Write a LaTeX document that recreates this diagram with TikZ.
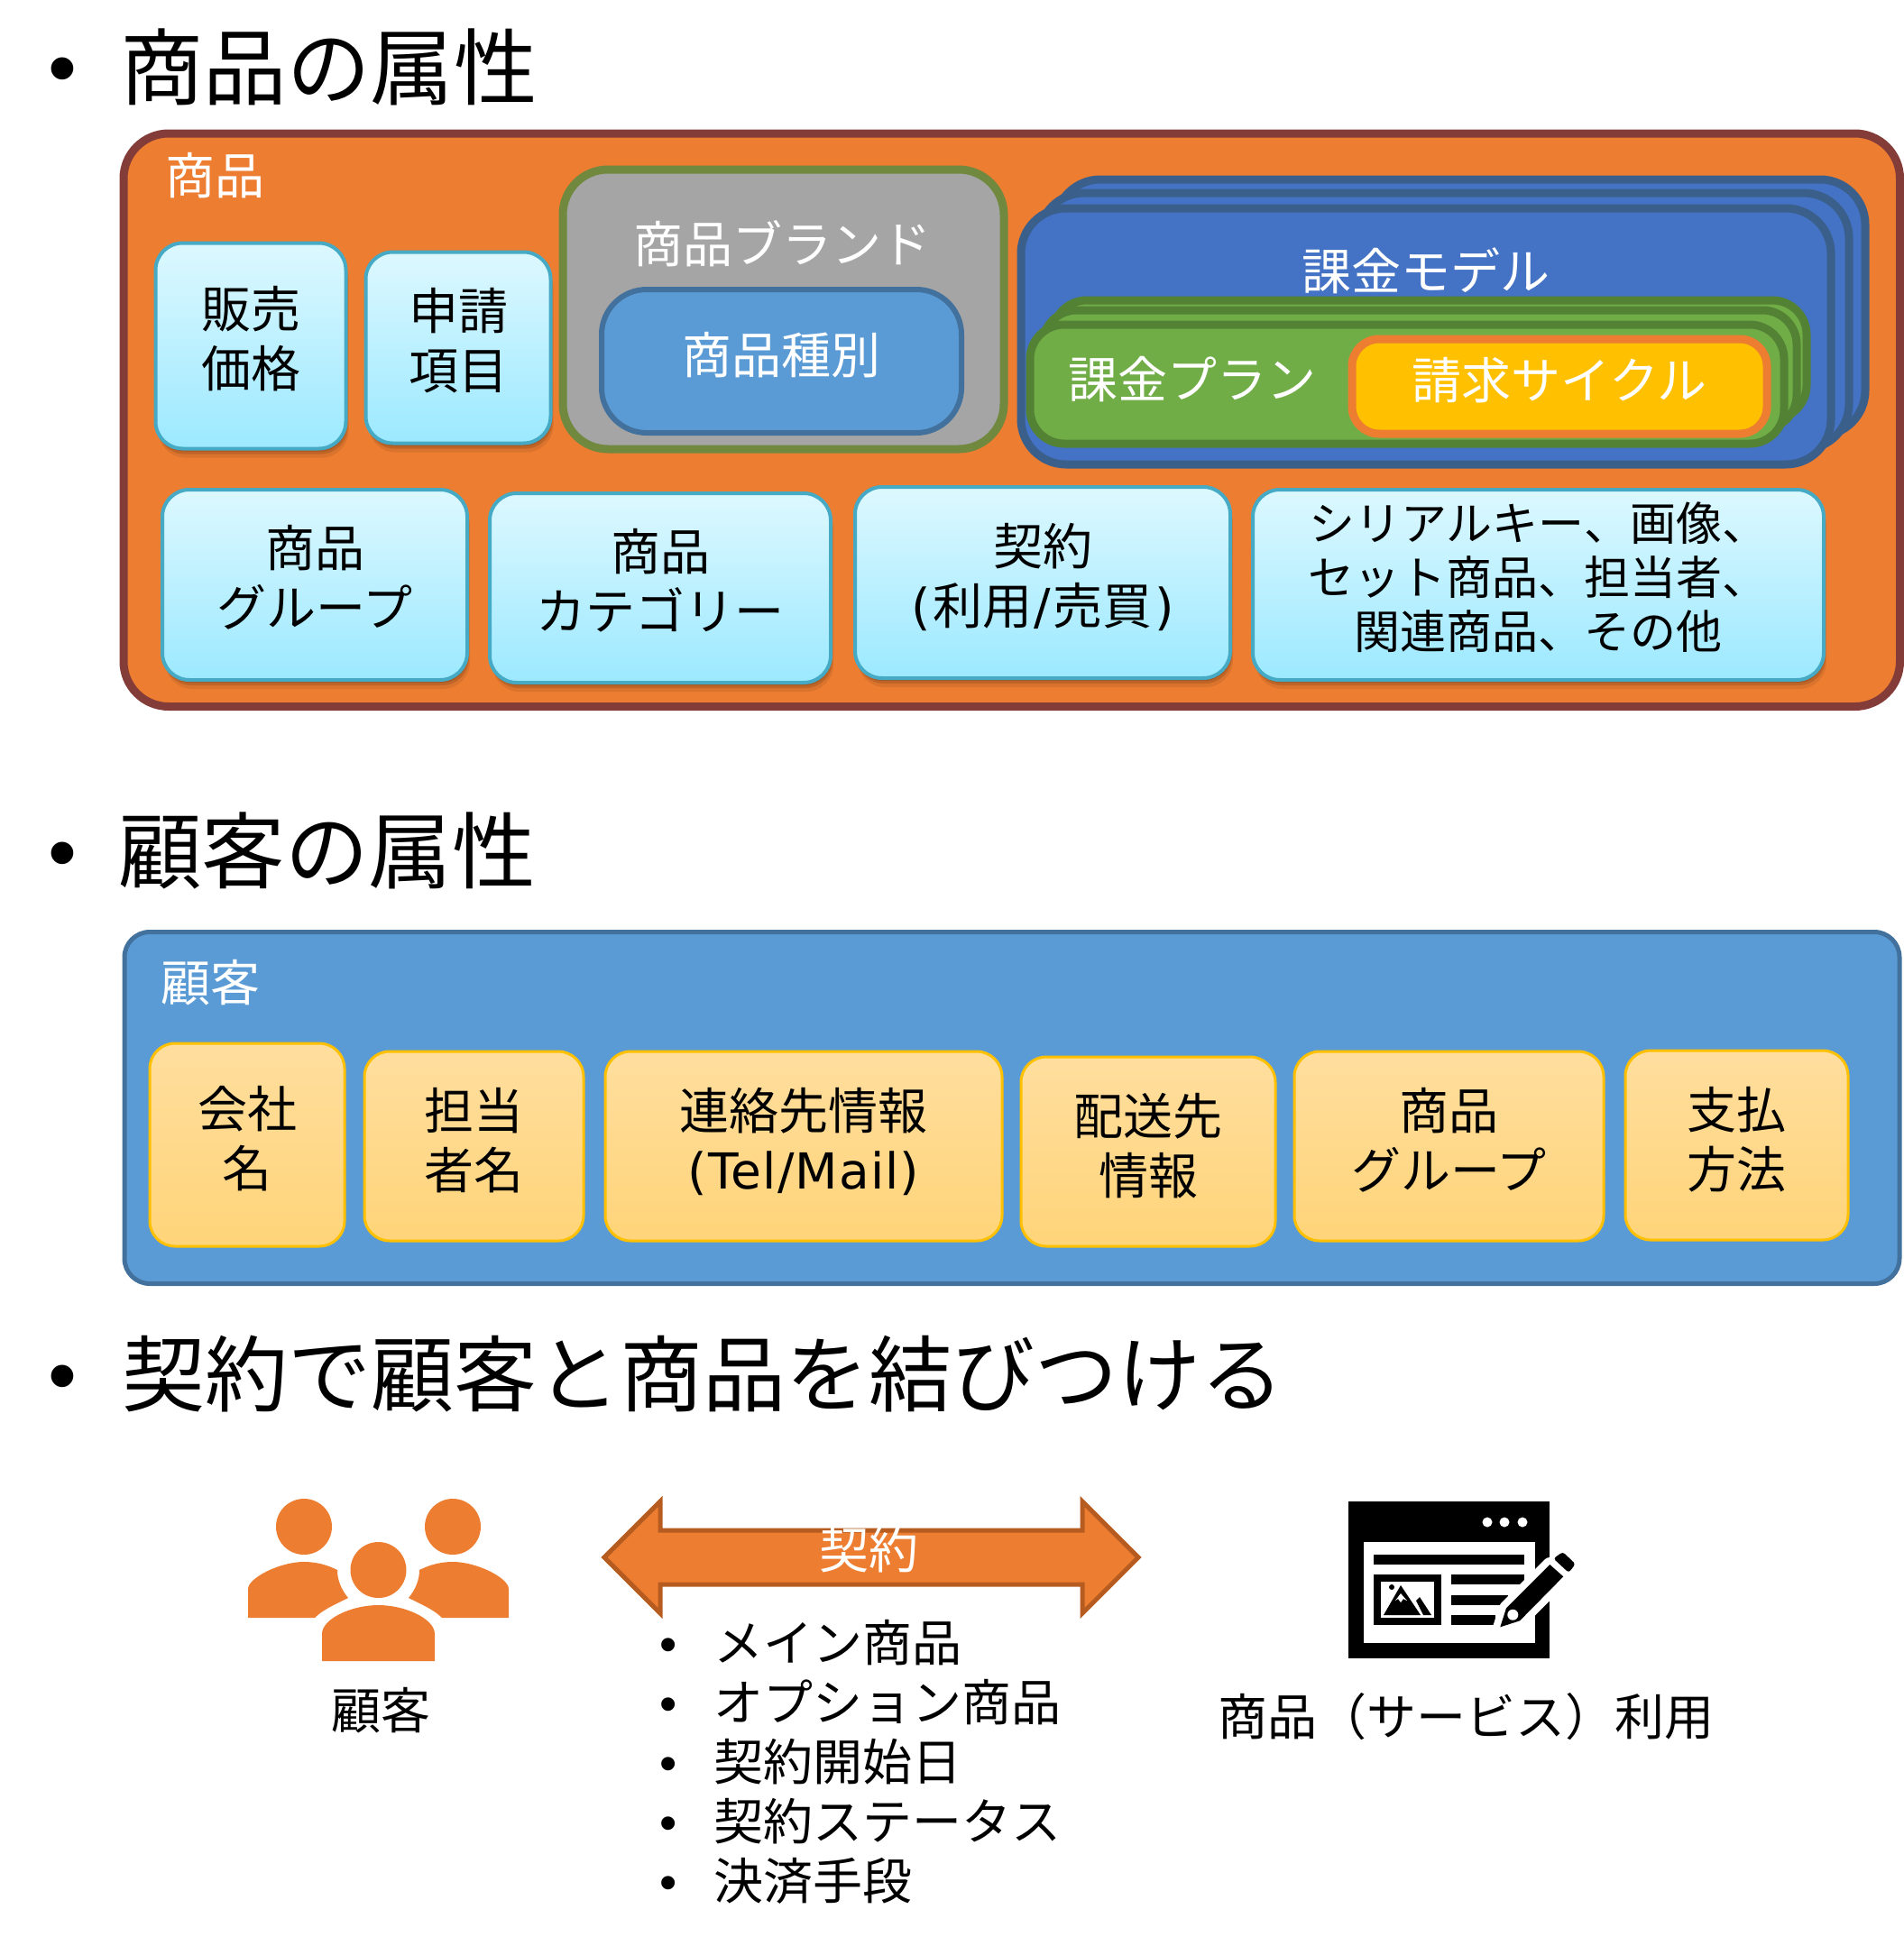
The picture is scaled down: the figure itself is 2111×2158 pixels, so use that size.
\documentclass[tikz,border=0pt]{standalone}
\usepackage{fontspec}
\usepackage{tikz}
\usetikzlibrary{shadows}
\setmainfont{Noto Sans CJK JP}
\newfontfamily\dotfont{Liberation Sans}
\newfontfamily\latinfont[LetterSpace=2]{DejaVu Sans}
\definecolor{orangeFill}{HTML}{ED7D31}
\definecolor{orangeLine}{HTML}{843C39}
\definecolor{arrowLine}{HTML}{B65C20}
\definecolor{blueFill}{HTML}{4472C4}
\definecolor{blueLine}{HTML}{3A5F8B}
\definecolor{skyFill}{HTML}{5B9BD5}
\definecolor{skyLine}{HTML}{41719C}
\definecolor{greenFill}{HTML}{70AD47}
\definecolor{greenLine}{HTML}{548235}
\definecolor{greyFill}{HTML}{A5A5A5}
\definecolor{greyLine}{HTML}{71893F}
\definecolor{goldFill}{HTML}{FFC000}
\definecolor{attrTop}{HTML}{DDF8FF}
\definecolor{attrBottom}{HTML}{9CE9FF}
\definecolor{attrLine}{HTML}{46AAC5}
\definecolor{custTop}{HTML}{FFDE9E}
\definecolor{custBottom}{HTML}{FFD479}

\begin{document}
\begin{tikzpicture}[x=1pt,y=-1pt,
	title/.style={anchor=west,inner sep=0pt,font=\fontsize{92.5}{100}\selectfont},
	titledot/.style={inner sep=0pt,font=\dotfont\fontsize{91}{100}\selectfont},
	label/.style={inner sep=0pt,align=center,font=\fontsize{55}{66}\selectfont},
	labelW/.style={label,text=white},
	panel/.style={rectangle,draw,inner sep=0pt,align=center,font=\fontsize{55}{66}\selectfont},
	card/.style={panel,draw=blueLine,fill=blueFill,line width=9pt,rounded corners=50pt,minimum width=898pt,minimum height=284pt},
	plan/.style={panel,draw=greenLine,fill=greenFill,line width=9pt,rounded corners=38pt,minimum width=836pt,minimum height=132pt},
	attr/.style={panel,draw=attrLine,line width=4pt,rounded corners=30pt,top color=attrTop,bottom color=attrBottom,text depth=20pt,
		drop shadow={shadow xshift=1pt,shadow yshift=-3pt,fill=black,opacity=0.14},
		drop shadow={shadow xshift=2pt,shadow yshift=-6pt,fill=black,opacity=0.12},
		drop shadow={shadow xshift=3pt,shadow yshift=-10pt,fill=black,opacity=0.08}},
	cust/.style={panel,draw=goldFill,line width=3pt,rounded corners=28pt,top color=custTop,bottom color=custBottom,text depth=18pt},
	listitem/.style={label,anchor=west}]
	\useasboundingbox (0,0) rectangle (2111,2158);
	% first section
	\node[titledot] (D1) at (69,85) {•};
	\node[title] (T1) at (133,74) {商品の属性};
	\node[panel,draw=orangeLine,fill=orangeFill,line width=9pt,rounded corners=50pt,minimum width=1969.5pt,minimum height=635.5pt] (P) at (1121.75,465.75) {};
	\node[labelW] (Plabel) at (238,195) {商品};
	\node[attr,minimum width=211pt,minimum height=228pt] (price) at (278,383.5) {販売\\価格};
	\node[attr,minimum width=205pt,minimum height=212pt] (apply) at (508,385.5) {申請\\項目};
	% brand box
	\node[panel,draw=greyLine,fill=greyFill,line width=9pt,rounded corners=50pt,minimum width=489pt,minimum height=310pt] (brand) at (868.5,343) {};
	\node[labelW] (brandlabel) at (867,270) {商品ブランド};
	\node[panel,draw=skyLine,fill=skyFill,line width=6pt,rounded corners=50pt,minimum width=399pt,minimum height=159pt,text=white,text depth=18pt] (kind) at (866.5,400.5) {商品種別};
	% billing model, three cards
	\node[card] (M3) at (1619,341) {};
	\node[card] (M2) at (1601,356) {};
	\node[card] (M1) at (1581,373) {};
	\node[labelW] (Mlabel) at (1581,300) {課金モデル};
	\node[plan] (B3) at (1585,399) {};
	\node[plan] (B2) at (1574,410) {};
	\node[plan] (B1) at (1560,426) {};
	\node[labelW] (Blabel) at (1322,421) {課金プラン};
	\node[panel,draw=orangeFill,fill=goldFill,line width=9pt,rounded corners=30pt,minimum width=460pt,minimum height=105pt,text=white,text depth=18pt] (cycle) at (1729,428.5) {請求サイクル};
	% lower row
	\node[attr,minimum width=338pt,minimum height=211pt] (group) at (349,648.5) {商品\\グループ};
	\node[attr,minimum width=378pt,minimum height=210pt] (category) at (732,652) {商品\\カテゴリー};
	\node[attr,minimum width=416pt,minimum height=212pt] (contract) at (1156,646) {契約\\{\latinfont(}\kern3pt 利用\kern2pt{\latinfont/}\kern2pt 売買\kern3pt{\latinfont)}};
	\node[attr,minimum width=633pt,minimum height=211pt,font=\fontsize{51}{60}\selectfont] (other) at (1705.5,648.5) {シリアルキー、画像、\\セット商品、担当者、\\関連商品、その他};
	% second section
	\node[titledot] (D2) at (69,955) {•};
	\node[title] (T2) at (131,943) {顧客の属性};
	\node[panel,draw=skyLine,fill=skyFill,line width=5pt,rounded corners=28pt,minimum width=1968pt,minimum height=390pt] (C) at (1122,1228.5) {};
	\node[labelW] (Clabel) at (233,1090) {顧客};
	\node[cust,minimum width=216pt,minimum height=225pt] (company) at (274,1269.5) {会社\\名};
	\node[cust,minimum width=243pt,minimum height=210pt] (person) at (525.5,1271) {担当\\者名};
	\node[cust,minimum width=440pt,minimum height=210pt] (contact) at (891,1271) {連絡先情報\\{\latinfont(Tel/Mail)}};
	\node[cust,minimum width=282pt,minimum height=210pt] (ship) at (1273,1277) {配送先\\情報};
	\node[cust,minimum width=343pt,minimum height=210pt] (cgroup) at (1606.5,1271) {商品\\グループ};
	\node[cust,minimum width=247pt,minimum height=210pt] (pay) at (1925.5,1270) {支払\\方法};
	% third section
	\node[titledot] (D3) at (69,1535) {•};
	\node[title,font=\fontsize{92}{100}\selectfont] (T3) at (135,1524) {契約で顧客と商品を結びつける};
	% customers icon
	\fill[orangeFill] (337,1693) circle (31) (502,1693) circle (31) (419.5,1741) circle (31);
	\fill[orangeFill] (275,1794) -- (275,1762) .. controls (275,1750) and (310,1732) .. (337,1732) .. controls (350,1732) and (362,1735) .. (374,1741) .. controls (374,1752) and (378,1762) .. (386,1772) .. controls (370,1780) and (358,1785) .. (349,1794) -- cycle;
	\fill[orangeFill] (564,1794) -- (564,1762) .. controls (564,1750) and (529,1732) .. (502,1732) .. controls (489,1732) and (477,1735) .. (465,1741) .. controls (465,1752) and (461,1762) .. (453,1772) .. controls (469,1780) and (481,1785) .. (490,1794) -- cycle;
	\fill[orangeFill] (357,1842) -- (357,1812) .. controls (357,1795) and (390,1780) .. (419.5,1780) .. controls (449,1780) and (482,1795) .. (482,1812) -- (482,1842) -- cycle;
	\node[label] (Ilabel) at (422,1897) {顧客};
	% contract arrow
	\draw[fill=orangeFill,draw=arrowLine,line width=5pt] (670,1727) -- (732,1665) -- (732,1697) -- (1200,1697) -- (1200,1665) -- (1262,1727) -- (1200,1789) -- (1200,1757) -- (732,1757) -- (732,1789) -- cycle;
	\node[labelW] (Alabel) at (963,1719) {契約};
	% contract items
	\node[listitem] (L1) at (731,1822) {\makebox[60pt][l]{\dotfont •}メイン商品};
	\node[listitem] (L2) at (731,1888) {\makebox[60pt][l]{\dotfont •}オプション商品};
	\node[listitem] (L3) at (731,1954) {\makebox[60pt][l]{\dotfont •}契約開始日};
	\node[listitem] (L4) at (731,2020) {\makebox[60pt][l]{\dotfont •}契約ステータス};
	\node[listitem] (L5) at (731,2086) {\makebox[60pt][l]{\dotfont •}決済手段};
	% service window icon
	\fill[black] (1495,1665) rectangle (1718,1839);
	\fill[white] (1649,1688) circle (5.5) (1668,1688) circle (5.5) (1688,1688) circle (5.5);
	\fill[white] (1512,1710) rectangle (1702,1822);
	\fill[black] (1523,1724) rectangle (1690,1735);
	\fill[black] (1523,1746) rectangle (1598,1802);
	\fill[white] (1531,1754) rectangle (1590,1794);
	\fill[black] (1534,1791) -- (1553,1758) -- (1575,1791) -- cycle;
	\fill[black] (1570,1775) -- (1574,1771) -- (1587,1791) -- (1578,1791) -- cycle;
	\fill[white] (1547,1775) -- (1553,1767) -- (1560,1775) -- (1556,1773) -- (1553,1777) -- (1550,1773) -- cycle;
	\fill[black] (1543,1760) circle (3);
	\fill[black] (1609,1746) rectangle (1690,1757);
	\fill[black] (1609,1769) rectangle (1672,1780);
	\fill[black] (1609,1791) rectangle (1658,1802);
	% pencil
	\draw[white,fill=white,line width=16pt,line join=round] (1663.3,1804.3) -- (1670,1783.3) -- (1718.3,1735) -- (1733.3,1748.3) -- (1685,1797.3) -- cycle;
	\fill[black] (1663.3,1804.3) -- (1670,1783.3) -- (1718.3,1735) -- (1733.3,1748.3) -- (1685,1797.3) -- cycle;
	\fill[black,rounded corners=3pt] (1722.3,1728.3) -- (1732.7,1721) -- (1746.7,1734.3) -- (1739.3,1744) -- cycle;
	\fill[white] (1677.3,1790.7) circle (6);
	\node[label] (Wlabel) at (1625,1904) {商品（サービス）利用};
\end{tikzpicture}
\end{document}
